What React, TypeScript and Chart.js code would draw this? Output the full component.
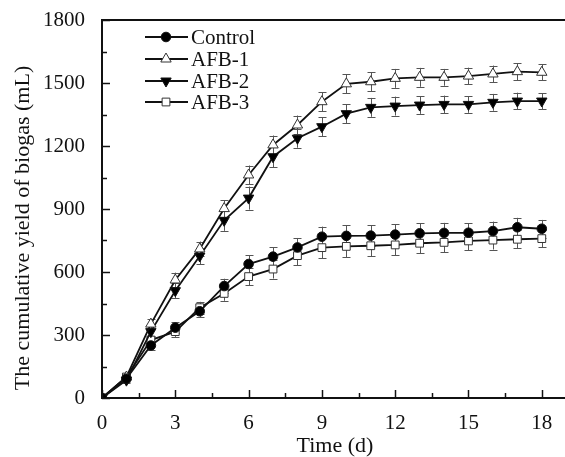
import React, { useEffect, useRef } from "react";
import { Chart, registerables } from "chart.js";
Chart.register(...registerables);

const days = [0, 1, 2, 3, 4, 5, 6, 7, 8, 9, 10, 11, 12, 13, 14, 15, 16, 17, 18];
const control = [0, 92, 250, 335, 413, 533, 638, 673, 717, 768, 772, 773, 778, 784, 786, 787, 795, 813, 806];
const controlErr = [0, 15, 20, 25, 28, 35, 42, 45, 45, 48, 50, 50, 50, 48, 48, 45, 45, 45, 42];
const afb1 = [0, 100, 352, 562, 710, 902, 1062, 1205, 1300, 1411, 1496, 1506, 1522, 1527, 1527, 1533, 1543, 1554, 1551];
const afb1Err = [0, 15, 25, 35, 35, 40, 45, 45, 45, 45, 45, 45, 45, 45, 40, 40, 40, 40, 38];
const afb2 = [0, 85, 316, 511, 676, 846, 952, 1149, 1237, 1292, 1354, 1384, 1390, 1395, 1398, 1398, 1408, 1414, 1414];
const afb2Err = [0, 15, 25, 35, 40, 50, 55, 50, 45, 45, 45, 45, 45, 42, 42, 40, 40, 40, 38];
const afb3 = [0, 100, 276, 316, 430, 498, 578, 614, 678, 716, 722, 725, 729, 737, 741, 748, 752, 756, 759];
const afb3Err = [0, 15, 20, 25, 28, 35, 42, 45, 45, 50, 52, 50, 50, 48, 46, 45, 45, 42, 40];

const seriesNames = ["Control", "AFB-1", "AFB-2", "AFB-3"];
const xTickValues = [0, 1.5, 3, 4.5, 6, 7.5, 9, 10.5, 12, 13.5, 15, 16.5, 18];
const yTickValues = [0, 150, 300, 450, 600, 750, 900, 1050, 1200, 1350, 1500, 1650, 1800];
const xTitle = "Time (d)";
const yTitle = "The cumulative yield of biogas (mL)";

const FONT = '"Liberation Serif", "Times New Roman", serif';

function drawMarker(ctx: CanvasRenderingContext2D, style: string, rot: number, r: number, x: number, y: number, fill: string, stroke: string) {
  ctx.save();
  ctx.beginPath();
  if (style === "circle") {
    ctx.arc(x, y, r, 0, Math.PI * 2);
  } else if (style === "rect") {
    const s = Math.SQRT1_2 * r;
    ctx.rect(x - s, y - s, 2 * s, 2 * s);
  } else if (style === "triangle") {
    const rad = (rot * Math.PI) / 180;
    for (let k = 0; k < 3; k++) {
      const a = rad + (k * 2 * Math.PI) / 3;
      const px = x + Math.sin(a) * r;
      const py = y - Math.cos(a) * r;
      if (k === 0) ctx.moveTo(px, py);
      else ctx.lineTo(px, py);
    }
    ctx.closePath();
  }
  ctx.fillStyle = fill;
  ctx.fill();
  ctx.strokeStyle = stroke;
  ctx.lineWidth = 1;
  ctx.stroke();
  ctx.restore();
}

const errorsList = [controlErr, afb1Err, afb2Err, afb3Err];

const customPlugin = {
  id: "custom",
  beforeDatasetsDraw(chart: any) {
    const ctx = chart.ctx;
    const yScale = chart.scales.y;
    ctx.save();
    ctx.strokeStyle = "#555";
    ctx.lineWidth = 1;
    chart.data.datasets.forEach((ds: any, i: number) => {
      const meta = chart.getDatasetMeta(i);
      const errs = errorsList[i];
      meta.data.forEach((pt: any, j: number) => {
        const e = errs[j];
        if (!e) return;
        const v = ds.data[j].y;
        const yt = yScale.getPixelForValue(v + e);
        const yb = yScale.getPixelForValue(v - e);
        const x = Math.round(pt.x) + 0.5;
        ctx.beginPath();
        ctx.moveTo(x, yt);
        ctx.lineTo(x, yb);
        ctx.moveTo(x - 4, Math.round(yt) + 0.5);
        ctx.lineTo(x + 4, Math.round(yt) + 0.5);
        ctx.moveTo(x - 4, Math.round(yb) + 0.5);
        ctx.lineTo(x + 4, Math.round(yb) + 0.5);
        ctx.stroke();
      });
    });
    ctx.restore();
  },
  afterDraw(chart: any) {
    const ctx = chart.ctx;
    const a = chart.chartArea;
    const xs = chart.scales.x;
    const ys = chart.scales.y;
    ctx.save();
    ctx.strokeStyle = "#111";
    ctx.lineWidth = 2;
    ctx.beginPath();
    ctx.moveTo(a.left, a.top);
    ctx.lineTo(a.right, a.top);
    ctx.stroke();
    ctx.lineWidth = 1.5;
    xTickValues.forEach((v) => {
      const px = Math.round(xs.getPixelForValue(v)) + 0.5;
      const len = v % 3 === 0 ? 8 : 5;
      ctx.beginPath();
      ctx.moveTo(px, a.bottom);
      ctx.lineTo(px, a.bottom - len);
      ctx.stroke();
    });
    yTickValues.forEach((v) => {
      const py = Math.round(ys.getPixelForValue(v)) + 0.5;
      const len = v % 300 === 0 ? 8 : 5;
      ctx.beginPath();
      ctx.moveTo(a.left, py);
      ctx.lineTo(a.left + len, py);
      ctx.stroke();
    });
    // axis titles
    ctx.fillStyle = "#111";
    ctx.font = `22px ${FONT}`;
    ctx.textAlign = "center";
    ctx.textBaseline = "middle";
    ctx.fillText(xTitle, 335, 446);
    ctx.save();
    ctx.translate(23, 228);
    ctx.rotate(-Math.PI / 2);
    ctx.fillText(yTitle, 0, 0);
    ctx.restore();
    // legend
    const rows = [37, 59, 81, 102];
    chart.data.datasets.forEach((ds: any, i: number) => {
      const y = rows[i];
      ctx.strokeStyle = "#111";
      ctx.lineWidth = 1.8;
      ctx.beginPath();
      ctx.moveTo(145, y);
      ctx.lineTo(188, y);
      ctx.stroke();
      drawMarker(ctx, ds.pointStyle, ds.pointRotation || 0, ds.pointRadius, 166, y, ds.pointBackgroundColor, ds.pointBorderColor);
      ctx.fillStyle = "#111";
      ctx.font = `21px ${FONT}`;
      ctx.textBaseline = "middle";
      ctx.textAlign = "left";
      ctx.fillText(ds.label, 191, y + 1);
    });
    ctx.restore();
  },
};

function pts(vals: number[]) {
  return days.map((d, i) => ({ x: d, y: vals[i] }));
}

function zeroPad(s: any) {
  s.paddingTop = 0;
  s.paddingBottom = 0;
  s.paddingLeft = 0;
  s.paddingRight = 0;
}

export default function App() {
  const ref = useRef<HTMLCanvasElement>(null);
  useEffect(() => {
    if (!ref.current) return;
    const base = {
      borderColor: "#111",
      borderWidth: 1.8,
      pointBorderColor: "#111",
      pointBorderWidth: 1,
      showLine: true,
      tension: 0,
    };
    const chart = new Chart(ref.current, {
      type: "scatter",
      data: {
        datasets: [
          { ...base, label: seriesNames[0], data: pts(control), pointStyle: "circle", pointRadius: 4.8, pointBackgroundColor: "#000" },
          { ...base, label: seriesNames[1], data: pts(afb1), pointStyle: "triangle", pointRadius: 6, pointBackgroundColor: "#fff", pointBorderColor: "#333" },
          { ...base, label: seriesNames[2], data: pts(afb2), pointStyle: "triangle", pointRotation: 180, pointRadius: 6, pointBackgroundColor: "#000" },
          { ...base, label: seriesNames[3], data: pts(afb3), pointStyle: "rect", pointRadius: 5.5, pointBackgroundColor: "#fff", pointBorderColor: "#333" },
        ] as any,
      },
      options: {
        responsive: false,
        animation: false,
        devicePixelRatio: 1,
        layout: { autoPadding: false, padding: { top: 20, right: 0, left: 0, bottom: 0 } },
        plugins: { legend: { display: false }, tooltip: { enabled: false } },
        scales: {
          x: {
            type: "linear",
            min: 0,
            max: 18.95,
            afterBuildTicks: (s: any) => {
              s.ticks = xTickValues.map((v) => ({ value: v }));
            },
            afterFit: (s: any) => {
              s.height = 59;
              zeroPad(s);
            },
            grid: { display: false, drawTicks: false },
            border: { display: true, color: "#111", width: 2 },
            ticks: {
              color: "#111",
              font: { family: FONT, size: 21 },
              padding: 13,
              maxRotation: 0,
              autoSkip: false,
              callback: (v: any) => (Number(v) % 3 === 0 ? String(v) : ""),
            },
            title: { display: false },
          },
          y: {
            type: "linear",
            min: 0,
            max: 1800,
            afterBuildTicks: (s: any) => {
              s.ticks = yTickValues.map((v) => ({ value: v }));
            },
            afterFit: (s: any) => {
              s.width = 102;
              zeroPad(s);
            },
            grid: { display: false, drawTicks: false },
            border: { display: true, color: "#111", width: 2 },
            ticks: {
              color: "#111",
              font: { family: FONT, size: 21 },
              padding: 17,
              autoSkip: false,
              callback: (v: any) => (Number(v) % 300 === 0 ? String(v) : ""),
            },
            title: { display: false },
          },
        },
      } as any,
      plugins: [customPlugin],
    });
    return () => chart.destroy();
  }, []);
  return (
    <div style={{ position: "absolute", left: 0, top: 0, width: 565, height: 457, background: "#fff" }}>
      <canvas ref={ref} width={565} height={457} style={{ display: "block" }} />
    </div>
  );
}
